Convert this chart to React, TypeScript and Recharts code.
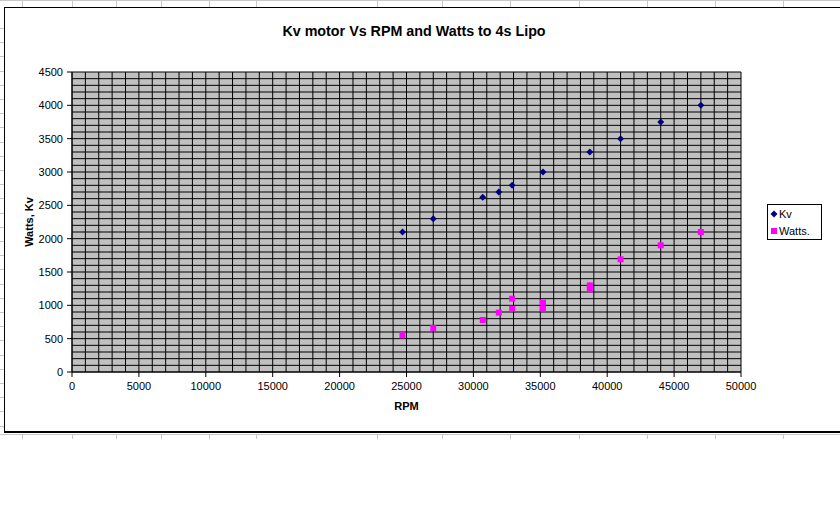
import React from 'react'
import { ScatterChart, Scatter, XAxis, YAxis, CartesianGrid } from 'recharts'

// values (RPM on x)
const kvRpm = [24700, 27000, 30700, 31900, 32900, 35200, 38700, 41000, 44000, 47000]
const kvValues = [2100, 2300, 2620, 2700, 2800, 3000, 3300, 3500, 3750, 4000]

const wattsRpm = [24700, 27000, 30700, 31900, 32900, 32900, 35200, 35200, 38700, 38700, 41000, 44000, 47000]
const wattsValues = [550, 660, 780, 890, 1100, 950, 1040, 950, 1300, 1240, 1690, 1900, 2100]

const xTicks = [0, 5000, 10000, 15000, 20000, 25000, 30000, 35000, 40000, 45000, 50000]
const yTicks = [0, 500, 1000, 1500, 2000, 2500, 3000, 3500, 4000, 4500]

const seriesNames = ['Kv', 'Watts.']

const kvData = kvRpm.map((rpm, i) => ({ rpm, value: kvValues[i] }))
const wattsData = wattsRpm.map((rpm, i) => ({ rpm, value: wattsValues[i] }))

// minor grid every 1000 rpm / 100 units, like the excel sheet
const gridX = Array.from({ length: 51 }, (_, i) => i * 1000)
const gridY = Array.from({ length: 46 }, (_, i) => i * 100)

const FONT = '"Liberation Sans", Arial, sans-serif'
const NAVY = '#000080'
const MAGENTA = '#FF00FF'

const Diamond = ({ cx, cy }: any) => (
  <polygon points={`${cx},${cy - 3.5} ${cx + 3.5},${cy} ${cx},${cy + 3.5} ${cx - 3.5},${cy}`} fill={NAVY} />
)

const Square = ({ cx, cy }: any) => <rect x={cx - 3} y={cy - 3} width={6} height={6} fill={MAGENTA} />

// spreadsheet cell lines peeking around the embedded chart
const columnLines = [21.7, 72.3, 115.7, 160.7, 209.3, 255.7, 376.7, 442.3, 510.3, 578.7, 646.7, 714.7, 782.7]
const rowLines = Array.from({ length: 29 }, (_, i) => 28 + i * 14.2)

export default function App() {
  const tickStyle = { fontSize: 11, fill: '#000', fontFamily: FONT }

  return (
    <div style={{ position: 'absolute', left: 0, top: 0, width: 840, height: 525, background: '#fff', overflow: 'hidden' }}>
      {/* sheet background */}
      <div style={{ position: 'absolute', left: 0, top: 0, width: 840, height: 1, background: '#c8c8c8' }} />
      <div style={{ position: 'absolute', left: 0, top: 434, width: 840, height: 1, background: '#c8c8c8' }} />
      {columnLines.map(x => (
        <React.Fragment key={x}>
          <div style={{ position: 'absolute', left: x, top: 0, width: 1, height: 7, background: '#c8c8c8' }} />
          <div style={{ position: 'absolute', left: x, top: 434, width: 1, height: 5, background: '#c8c8c8' }} />
        </React.Fragment>
      ))}
      {rowLines.map(y => (
        <div key={y} style={{ position: 'absolute', left: 0, top: y, width: 4, height: 1, background: '#c8c8c8' }} />
      ))}

      {/* chart frame */}
      <div
        style={{
          position: 'absolute',
          left: 4,
          top: 7,
          width: 850,
          height: 423,
          background: '#fff',
          borderLeft: '1px solid #000',
          borderTop: '1px solid #000',
          borderBottom: '2px solid #000',
        }}
      />

      <div
        style={{
          position: 'absolute',
          left: 0,
          top: 23,
          width: 828,
          textAlign: 'center',
          fontFamily: FONT,
          fontWeight: 'bold',
          fontSize: 14.3,
          lineHeight: '16px',
          color: '#000',
        }}
      >
        Kv motor Vs RPM and Watts to 4s Lipo
      </div>

      <div style={{ position: 'absolute', left: 0, top: 0 }}>
        <ScatterChart width={824} height={432} margin={{ top: 72, right: 83, bottom: 30, left: 12 }}>
          <CartesianGrid
            horizontalValues={gridY}
            verticalValues={gridX}
            fill="#C0C0C0"
            fillOpacity={1}
            stroke="#000"
            strokeWidth={1}
          />
          <XAxis
            type="number"
            dataKey="rpm"
            domain={[0, 50000]}
            ticks={xTicks}
            interval={0}
            height={30}
            tick={tickStyle}
            tickSize={5}
            tickMargin={5}
            stroke="#000"
            allowDataOverflow
            label={{ value: 'RPM', position: 'bottom', offset: 0, style: { fontSize: 11, fontWeight: 'bold', fill: '#000', fontFamily: FONT } }}
          />
          <YAxis
            type="number"
            dataKey="value"
            domain={[0, 4500]}
            ticks={yTicks}
            interval={0}
            width={60}
            tick={tickStyle}
            tickSize={5}
            tickMargin={4}
            stroke="#000"
            allowDataOverflow
            label={{
              value: 'Watts, Kv',
              angle: -90,
              position: 'insideLeft',
              offset: 17,
              style: { textAnchor: 'middle', fontSize: 11, fontWeight: 'bold', fill: '#000', fontFamily: FONT },
            }}
          />
          <Scatter name={seriesNames[0]} data={kvData} shape={(p: any) => <Diamond {...p} />} isAnimationActive={false} />
          <Scatter name={seriesNames[1]} data={wattsData} shape={(p: any) => <Square {...p} />} isAnimationActive={false} />
        </ScatterChart>
      </div>

      {/* legend box */}
      <div
        style={{
          position: 'absolute',
          left: 767,
          top: 204,
          width: 53,
          height: 34,
          border: '1px solid #000',
          background: '#fff',
          fontFamily: FONT,
          fontSize: 11,
          color: '#000',
        }}
      >
        {seriesNames.map((name, i) => (
          <div key={name} style={{ position: 'absolute', left: 2, top: 3 + i * 17, height: 13, lineHeight: '13px', whiteSpace: 'nowrap' }}>
            <svg width={8} height={8} style={{ verticalAlign: 'middle', marginRight: 1, marginTop: -2 }}>
              {i === 0 ? (
                <polygon points="4,0.5 7.5,4 4,7.5 0.5,4" fill={NAVY} />
              ) : (
                <rect x={1} y={1} width={6} height={6} fill={MAGENTA} />
              )}
            </svg>
            {name}
          </div>
        ))}
      </div>
    </div>
  )
}
